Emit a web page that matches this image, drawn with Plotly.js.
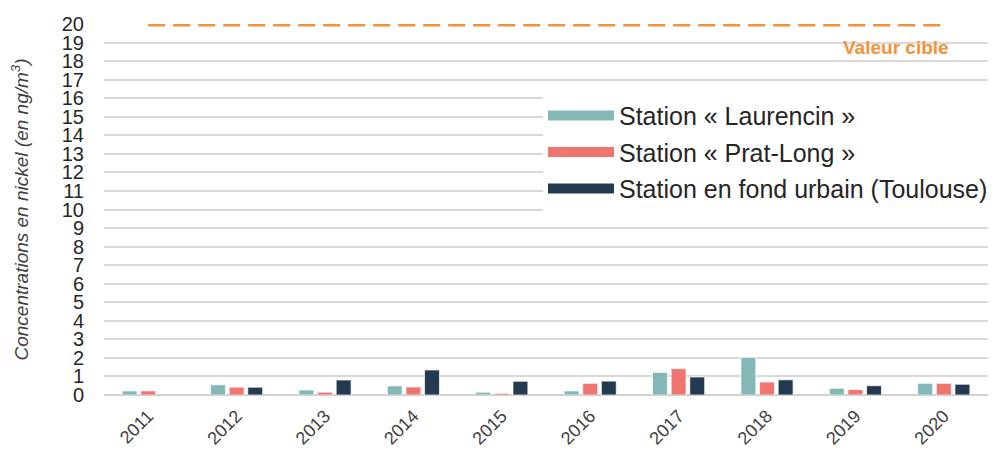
<!DOCTYPE html>
<html>
<head>
<meta charset="utf-8">
<script src="https://cdn.plot.ly/plotly-3.0.1.min.js"></script>
<style>
  html, body { margin: 0; padding: 0; background: #ffffff; }
  #chart { width: 1005px; height: 454px; }
</style>
</head>
<body>
<div id="chart"></div>
<script>
// ---- Data ----
var years = ["2011", "2012", "2013", "2014", "2015", "2016", "2017", "2018", "2019", "2020"];
var laurencin = [0.22, 0.55, 0.27, 0.49, 0.15, 0.22, 1.22, 2.03, 0.36, 0.63];
var pratLong  = [0.22, 0.42, 0.15, 0.43, 0.09, 0.63, 1.42, 0.70, 0.29, 0.63];
var urbain    = [null, 0.42, 0.81, 1.35, 0.74, 0.75, 0.97, 0.82, 0.50, 0.58];
var valeurCible = [20, 20, 20, 20, 20, 20, 20, 20, 20, 20];
var seriesNames = ["Station « Laurencin »", "Station « Prat-Long »", "Station en fond urbain (Toulouse)"];
var yTicks = [0,1,2,3,4,5,6,7,8,9,10,11,12,13,14,15,16,17,18,19,20];

var colors = ["#84B8B7", "#F07470", "#243A51"];
var FONT = "'Liberation Sans', Arial, sans-serif";

var seriesVals = [laurencin, pratLong, urbain];
var traces = [];
seriesVals.forEach(function (vals, i) {
  traces.push({
    type: "bar",
    x: years,
    y: vals,
    name: seriesNames[i],
    showlegend: false,
    legendgroup: "g" + i,
    marker: { color: colors[i], line: { color: "rgba(255,255,255,0.7)", width: 1 } },
    hoverinfo: "x+y+name"
  });
});
// legend-only swatches drawn as thick lines
seriesNames.forEach(function (nm, i) {
  traces.push({
    type: "scatter",
    mode: "lines",
    x: [null],
    y: [null],
    name: nm,
    legendgroup: "g" + i,
    showlegend: true,
    line: { color: colors[i], width: 13 },
    hoverinfo: "skip"
  });
});
traces.push({
  type: "scatter",
  mode: "lines",
  x: years,
  y: valeurCible,
  name: "Valeur cible",
  showlegend: false,
  cliponaxis: false,
  line: { color: "#F39237", width: 5, dash: "17px,8px" },
  hoverinfo: "y+name"
});

var layout = {
  width: 1005,
  height: 454,
  margin: { l: 104, r: 15, t: 24, b: 58.5 },
  paper_bgcolor: "#ffffff",
  plot_bgcolor: "#ffffff",
  font: { family: FONT, color: "#404040" },
  barmode: "group",
  bargap: 0.368,
  bargroupgap: 0.2,
  showlegend: true,
  legend: {
    x: 0.4966, y: 0.8146, xanchor: "left", yanchor: "top",
    bgcolor: "#ffffff",
    borderwidth: 0,
    font: { family: FONT, size: 25, color: "#262626" },
    itemwidth: 66,
    traceorder: "grouped",
    tracegroupgap: 1
  },
  xaxis: {
    type: "category",
    showgrid: false,
    zeroline: false,
    showline: false,
    ticks: "",
    tickangle: -45,
    ticklabelstandoff: 6,
    tickfont: { family: FONT, size: 18, color: "#404040" }
  },
  yaxis: {
    range: [0, 20],
    tickvals: yTicks,
    ticktext: yTicks.map(String),
    showgrid: true,
    gridcolor: "#d9d9d9",
    gridwidth: 2,
    zeroline: true,
    zerolinecolor: "#d0d0d0",
    zerolinewidth: 2,
    showline: false,
    ticks: "",
    ticklabelstandoff: 19,
    tickfont: { family: FONT, size: 20, color: "#262626" },
    title: {
      text: "<i>Concentrations en nickel (en ng/m<sup>3</sup>)</i>",
      font: { family: FONT, size: 19, color: "#404040" },
      standoff: 28
    }
  },
  annotations: [{
    xref: "paper", yref: "y",
    x: 0.896, y: 18.75,
    xanchor: "center", yanchor: "middle",
    text: "<b>Valeur cible</b>",
    showarrow: false,
    font: { family: FONT, size: 19, color: "#F39237" }
  }]
};

Plotly.newPlot("chart", traces, layout, { displayModeBar: false, staticPlot: true });
</script>
</body>
</html>
